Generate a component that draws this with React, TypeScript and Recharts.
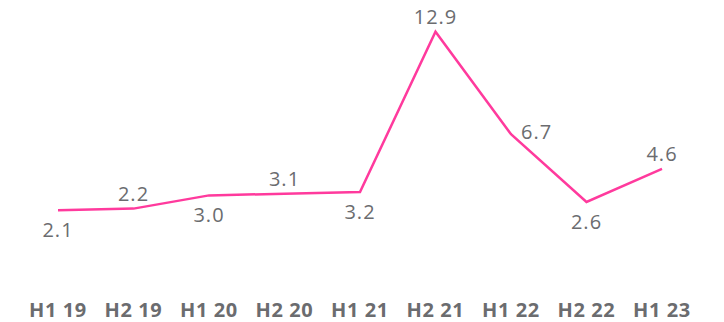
import { LineChart, Line, XAxis, YAxis, LabelList } from "recharts";

const periods = ["H1 19", "H2 19", "H1 20", "H2 20", "H1 21", "H2 21", "H1 22", "H2 22", "H1 23"];
const values = [2.1, 2.2, 3.0, 3.1, 3.2, 12.9, 6.7, 2.6, 4.6];
// where each value label sits relative to its point
const labelSides = ["below", "above", "below", "above", "below", "above", "right", "below", "above"];

const data = periods.map((period, i) => ({ period, value: values[i] }));

const FONT = "'Open Sans', sans-serif";
const TEXT = "#6b6c6f";
const PINK = "#ff3a9d";

function ValueLabel(props: any) {
  const { x, y, value, index } = props;
  const side = labelSides[index];
  let tx = x;
  let ty = y - 15;
  let anchor: "middle" | "start" = "middle";
  if (side === "below") ty = y + 19;
  if (side === "right") {
    tx = x + 10;
    ty = y - 3;
    anchor = "start";
  }
  return (
    <text
      x={tx}
      y={ty}
      textAnchor={anchor}
      dominantBaseline="central"
      fill={TEXT}
      fontSize={20}
      letterSpacing={1}
      fontFamily={FONT}
    >
      {Number(value).toFixed(1)}
    </text>
  );
}

export default function App() {
  return (
    <div style={{ position: "absolute", left: 0, top: 0, background: "#fff" }}>
      <LineChart width={724} height={322} data={data} margin={{ top: 30, right: 62, bottom: 2, left: 58 }}>
        <XAxis
          dataKey="period"
          axisLine={false}
          tickLine={false}
          height={75}
          interval={0}
          tick={{ fill: TEXT, fontSize: 20, fontWeight: 700, fontFamily: FONT, letterSpacing: 0.6 }}
          tickMargin={52}
        />
        <YAxis hide domain={[0, 13]} />
        <Line
          type="linear"
          dataKey="value"
          stroke={PINK}
          strokeWidth={2.5}
          dot={false}
          isAnimationActive={false}
        >
          <LabelList dataKey="value" content={<ValueLabel />} />
        </Line>
      </LineChart>
    </div>
  );
}
